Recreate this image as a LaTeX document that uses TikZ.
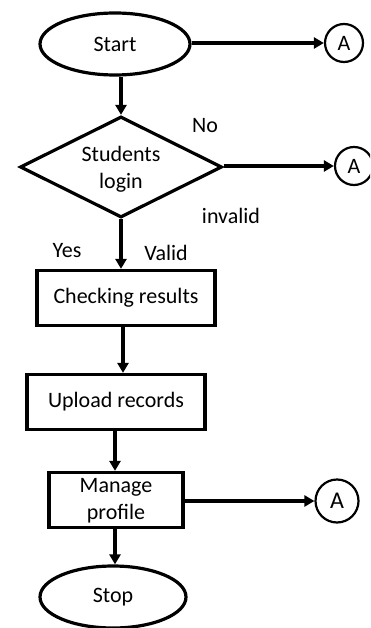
\documentclass[tikz,border=0pt]{standalone}
\usepackage{fontspec}
\setmainfont{Carlito}
\usetikzlibrary{shapes.geometric,arrows.meta}
\begin{document}
\begin{tikzpicture}[x=1pt,y=-1pt,
  line width=3.2pt,
  every node/.style={font=\fontsize{22}{26}\selectfont, inner sep=0pt},
  term/.style={draw, ellipse, minimum width=150pt, minimum height=62pt},
  proc/.style={draw, rectangle, align=center},
  dec/.style={draw, diamond, aspect=2, minimum width=202pt, minimum height=101pt, align=center},
  conn/.style={draw, circle, line width=2.2pt, minimum size=38pt},
  arr/.style={-{Triangle[length=10pt,width=11pt]}},
  lbl/.style={}]
\useasboundingbox (0,0) rectangle (370,628);
\clip (0,0) rectangle (370,628);
\node[term] (start) at (115,44) {Start};
\node[conn] (a1) at (344,43) {A};
\node[dec] (login) at (121,167) {};
\node at (121,154) {Students};
\node at (121,183) {login};
\node[conn] (a2) at (354,166) {A};
\node[proc, minimum width=178pt, minimum height=55pt] (check) at (126,298) {Checking results};
\node[proc, minimum width=178pt, minimum height=55pt] (upload) at (116,402) {Upload records};
\node[proc, minimum width=134pt, minimum height=55pt] (manage) at (116,500) {};
\node at (116,487) {Manage};
\node at (116,514) {profile};
\node[conn, minimum size=43pt, font=\fontsize{24}{28}\selectfont] (a3) at (337,501) {A};
\node[term, minimum width=146pt] (stop) at (113,597) {Stop};
\node[lbl] at (205,126) {No};
\node[lbl] at (231,216) {invalid};
\node[lbl] at (67,251) {Yes};
\node[lbl] at (166,253) {Valid};
\draw[arr] (start.east |- a1.west) -- (a1.west);
\draw[arr] (start.south -| login.north) -- (login.north);
\draw[arr] (login.east |- a2.west) -- (a2.west);
\draw[arr] (login.south) -- (login.south |- check.north);
\draw[arr] (check.south -| 123,0) -- (upload.north -| 123,0);
\draw[arr] (upload.south -| 115,0) -- (manage.north -| 115,0);
\draw[arr] (manage.east |- a3.west) -- (a3.west);
\draw[arr] (manage.south -| 115,0) -- (stop.north -| 115,0);
\end{tikzpicture}
\end{document}
